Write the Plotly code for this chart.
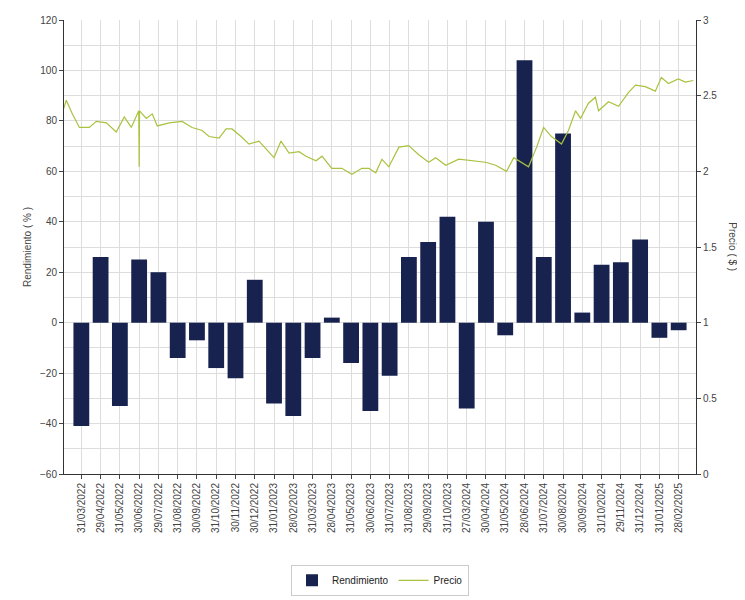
import plotly.graph_objects as go

# monthly return per period (%)
fechas = ["31/03/2022", "29/04/2022", "31/05/2022", "30/06/2022", "29/07/2022", "31/08/2022",
          "30/09/2022", "31/10/2022", "30/11/2022", "30/12/2022", "31/01/2023", "28/02/2023",
          "31/03/2023", "28/04/2023", "31/05/2023", "30/06/2023", "31/07/2023", "31/08/2023",
          "29/09/2023", "31/10/2023", "27/03/2024", "30/04/2024", "31/05/2024", "28/06/2024",
          "31/07/2024", "30/08/2024", "30/09/2024", "31/10/2024", "29/11/2024", "31/12/2024",
          "31/01/2025", "28/02/2025"]
rendimiento = [-41, 26, -33, 25, 20, -14, -7, -18, -22, 17, -32, -37,
               -14, 2, -16, -35, -21, 26, 32, 42, -34, 40, -5, 104,
               26, 75, 4, 23, 24, 33, -6, -3]

# price series, position in months from first period
precio_mes = [-0.98, -0.78, -0.47, -0.1, 0.41, 0.78, 1.3, 1.81, 2.23, 2.59, 2.98, 3.0, 3.02,
              3.37, 3.68, 3.94, 4.56, 5.23, 5.75, 6.27, 6.63, 7.15, 7.51, 7.82, 8.29, 8.7,
              9.22, 9.59, 10.0, 10.36, 10.78, 11.3, 11.66, 12.18, 12.49, 13.0, 13.52, 14.04,
              14.56, 14.92, 15.28, 15.6, 15.96, 16.48, 16.99, 17.51, 18.03, 18.39, 18.91,
              19.59, 20.26, 20.98, 21.5, 22.07, 22.44, 23.21, 23.63, 23.99, 24.4, 24.92,
              25.28, 25.65, 25.91, 26.32, 26.68, 26.84, 27.36, 27.88, 28.39, 28.76, 29.27,
              29.79, 30.1, 30.47, 30.98, 31.35, 31.76]
precio = [2.39, 2.47, 2.38, 2.29, 2.29, 2.33, 2.32, 2.26, 2.36, 2.29, 2.40, 2.03, 2.40,
          2.35, 2.38, 2.30, 2.32, 2.33, 2.29, 2.27, 2.23, 2.22, 2.28, 2.28, 2.23, 2.18,
          2.20, 2.15, 2.09, 2.20, 2.12, 2.13, 2.10, 2.07, 2.10, 2.02, 2.02, 1.98,
          2.02, 2.02, 1.99, 2.08, 2.03, 2.16, 2.17, 2.11, 2.06, 2.09, 2.04,
          2.08, 2.07, 2.06, 2.04, 2.00, 2.09, 2.03, 2.16, 2.29, 2.23, 2.18,
          2.27, 2.40, 2.35, 2.45, 2.49, 2.40, 2.46, 2.43, 2.52, 2.57, 2.56,
          2.53, 2.62, 2.58, 2.61, 2.59, 2.60]

xr = [-0.9, 31.9]
fig = go.Figure()
fig.add_trace(go.Bar(x=list(range(len(fechas))), y=rendimiento, name="Rendimiento",
                     marker=dict(color="#17224f", line=dict(width=0)), width=0.82))
fig.add_trace(go.Scatter(x=precio_mes, y=precio, name="Precio", mode="lines",
                         line=dict(color="#a9c23f", width=1.2), xaxis="x2", yaxis="y2"))

fig.update_layout(
    width=745, height=600,
    margin=dict(l=56, r=57, t=12, b=98),
    paper_bgcolor="white", plot_bgcolor="white",
    font=dict(family="Liberation Sans", size=10, color="#444"),
    showlegend=True,
    legend=dict(orientation="h", x=0.5, xanchor="center", y=-0.2, yanchor="top",
                bordercolor="#ccc", borderwidth=1, font=dict(size=10, color="#222")),
    xaxis=dict(range=xr, tickmode="array", tickvals=list(range(len(fechas))), ticktext=fechas,
               tickangle=-90, showgrid=True, gridcolor="#ddd", ticks="outside", ticklen=4,
               showline=True, linecolor="#333", zeroline=False, automargin=False),
    xaxis2=dict(range=xr, overlaying="x", visible=False),
    yaxis=dict(range=[-60, 120], dtick=20, showgrid=True, gridcolor="#ddd",
               minor=dict(dtick=10, showgrid=True, gridcolor="#ddd"),
               ticks="outside", ticklen=4, showline=True, linecolor="#333", zeroline=False,
               automargin=False,
               title=dict(text="Rendimiento ( % )", font=dict(size=10, color="#444"), standoff=6)),
    yaxis2=dict(range=[0, 3], dtick=0.5, overlaying="y", side="right", showgrid=False,
                ticks="outside", ticklen=4, showline=True, linecolor="#333", zeroline=False,
                tickformat="~g", automargin=False),
    annotations=[dict(text="Precio ( $ )", textangle=90, x=1.07, y=0.5, xref="paper",
                      yref="paper", showarrow=False, font=dict(size=10, color="#444"))],
)
fig.write_html("out.html")
